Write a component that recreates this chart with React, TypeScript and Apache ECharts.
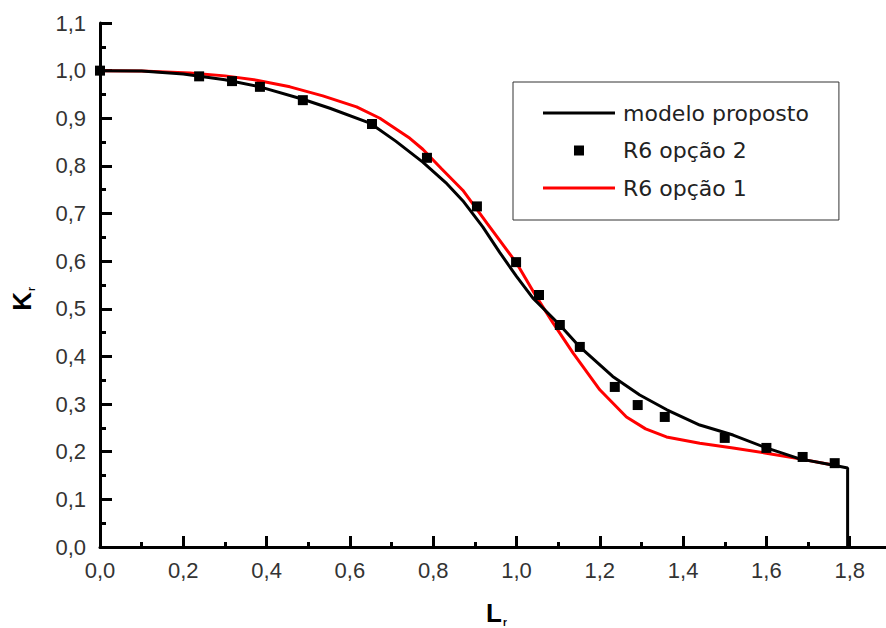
import React, { useEffect, useRef } from "react";
import * as echarts from "echarts";

// modelo proposto (black line)
const modelX = [0, 0.1, 0.2, 0.3, 0.384, 0.487, 0.552, 0.648, 0.71, 0.775, 0.83, 0.871, 0.919, 0.96, 1.0, 1.039, 1.104, 1.152, 1.231, 1.296, 1.361, 1.44, 1.52, 1.6, 1.68, 1.759, 1.795, 1.795];
const modelY = [1.0, 0.999, 0.993, 0.981, 0.966, 0.94, 0.921, 0.89, 0.852, 0.808, 0.765, 0.727, 0.672, 0.618, 0.568, 0.523, 0.466, 0.42, 0.358, 0.319, 0.288, 0.256, 0.235, 0.208, 0.185, 0.172, 0.166, 0];

// R6 opção 2 (black squares)
const opt2X = [0, 0.238, 0.317, 0.384, 0.487, 0.653, 0.785, 0.905, 0.999, 1.054, 1.104, 1.152, 1.236, 1.291, 1.356, 1.5, 1.6, 1.687, 1.764];
const opt2Y = [1.0, 0.988, 0.978, 0.966, 0.938, 0.888, 0.817, 0.715, 0.598, 0.529, 0.466, 0.42, 0.336, 0.298, 0.273, 0.229, 0.208, 0.189, 0.176];

// R6 opção 1 (red line)
const opt1X = [0, 0.1, 0.216, 0.3, 0.376, 0.456, 0.535, 0.616, 0.672, 0.744, 0.775, 0.82, 0.871, 0.929, 1.0, 1.048, 1.088, 1.136, 1.2, 1.264, 1.31, 1.36, 1.44, 1.52, 1.6, 1.68, 1.76];
const opt1Y = [1.0, 0.999, 0.995, 0.989, 0.98, 0.966, 0.947, 0.924, 0.9, 0.858, 0.835, 0.794, 0.749, 0.68, 0.596, 0.525, 0.47, 0.407, 0.33, 0.273, 0.248, 0.231, 0.218, 0.208, 0.197, 0.185, 0.172];

const seriesNames = ["modelo proposto", "R6 opção 2", "R6 opção 1"];

const fmt = (v: number) => v.toFixed(1).replace(".", ",");
const pairs = (xs: number[], ys: number[]) => xs.map((x, i) => [x, ys[i]]);

const tickFont = "'Liberation Sans', Arial, sans-serif";
const lineIcon = "path://M0,0L0.01,0M72,22L72.01,22M0,9.5L72,9.5L72,12.5L0,12.5Z";
const squareIcon = "path://M0,0L0.01,0M72,22L72.01,22M31,6L41,6L41,16L31,16Z";

export default function App() {
  const ref = useRef<HTMLDivElement>(null);
  useEffect(() => {
    const chart = echarts.init(ref.current!, null, { renderer: "svg" });
    const nameRich = {
      m: { fontSize: 26, fontWeight: "bold", fontFamily: tickFont, color: "#000" },
      s: { fontSize: 10, fontWeight: "bold", fontFamily: tickFont, color: "#000", padding: [18, 0, 0, 1] },
    };
    chart.setOption({
      animation: false,
      backgroundColor: "#ffffff",
      grid: { left: 100, top: 23, width: 833, height: 524, outerBoundsMode: "none", containLabel: false },
      legend: {
        data: [
          { name: seriesNames[0], icon: lineIcon, itemStyle: { color: "#000000" } },
          { name: seriesNames[1], icon: squareIcon, itemStyle: { color: "#000000" } },
          { name: seriesNames[2], icon: lineIcon, itemStyle: { color: "#ff0000" } },
        ],
        orient: "vertical",
        left: 513,
        top: 82,
        padding: [20, 30, 21, 30],
        itemWidth: 72,
        itemHeight: 22,
        itemGap: 15.5,
        borderColor: "#333",
        borderWidth: 1,
        selectedMode: false,
        textStyle: { fontSize: 22, fontFamily: "'DejaVu Sans', sans-serif", color: "#222", lineHeight: 22, padding: [0, 0, 0, 3] },
      },
      xAxis: {
        type: "value",
        min: 0,
        max: 2.0,
        interval: 0.2,
        axisLine: { show: true, lineStyle: { color: "#000", width: 3 } },
        axisTick: { show: true, inside: true, length: 11, lineStyle: { color: "#000", width: 3 } },
        minorTick: { show: true, splitNumber: 2, length: 5, lineStyle: { color: "#000", width: 3 } },
        splitLine: { show: false },
        minorSplitLine: { show: false },
        axisLabel: {
          formatter: (v: number) => (v > 1.85 ? "" : fmt(v)),
          showMaxLabel: false,
          fontSize: 22,
          fontFamily: tickFont,
          color: "#333",
          margin: 12,
        },
        name: "{m|L}{s|r}",
        nameLocation: "middle",
        nameGap: 52,
        nameTextStyle: { padding: [0, 40, 0, 0], rich: nameRich },
      },
      yAxis: {
        type: "value",
        min: 0,
        max: 1.1,
        interval: 0.1,
        axisLine: { show: true, lineStyle: { color: "#000", width: 3 } },
        axisTick: { show: true, inside: true, length: 12, lineStyle: { color: "#000", width: 3 } },
        minorTick: { show: true, splitNumber: 2, length: 6, lineStyle: { color: "#000", width: 3 } },
        splitLine: { show: false },
        minorSplitLine: { show: false },
        axisLabel: { formatter: fmt, fontSize: 22, fontFamily: tickFont, color: "#333", margin: 14 },
        name: "{m|K}{s|r}",
        nameLocation: "middle",
        nameRotate: 90,
        nameGap: 64,
        nameTextStyle: { padding: [0, 28, 0, 0], rich: nameRich },
      },
      series: [
        {
          name: seriesNames[2],
          type: "line",
          data: pairs(opt1X, opt1Y),
          showSymbol: false,
          symbol: "none",
          color: "#ff0000",
          lineStyle: { color: "#ff0000", width: 3 },
          z: 2,
        },
        {
          name: seriesNames[0],
          type: "line",
          data: pairs(modelX, modelY),
          showSymbol: false,
          symbol: "none",
          color: "#000000",
          lineStyle: { color: "#000000", width: 3 },
          z: 3,
        },
        {
          name: seriesNames[1],
          type: "scatter",
          data: pairs(opt2X, opt2Y),
          symbol: "rect",
          symbolSize: 10,
          color: "#000000",
          itemStyle: { color: "#000000", borderWidth: 0, opacity: 1 },
          z: 4,
        },
      ],
    });
    return () => chart.dispose();
  }, []);
  return (
    <div
      ref={ref}
      style={{ position: "fixed", left: 0, top: 0, width: 886, height: 628, overflow: "hidden", background: "#fff" }}
    />
  );
}
